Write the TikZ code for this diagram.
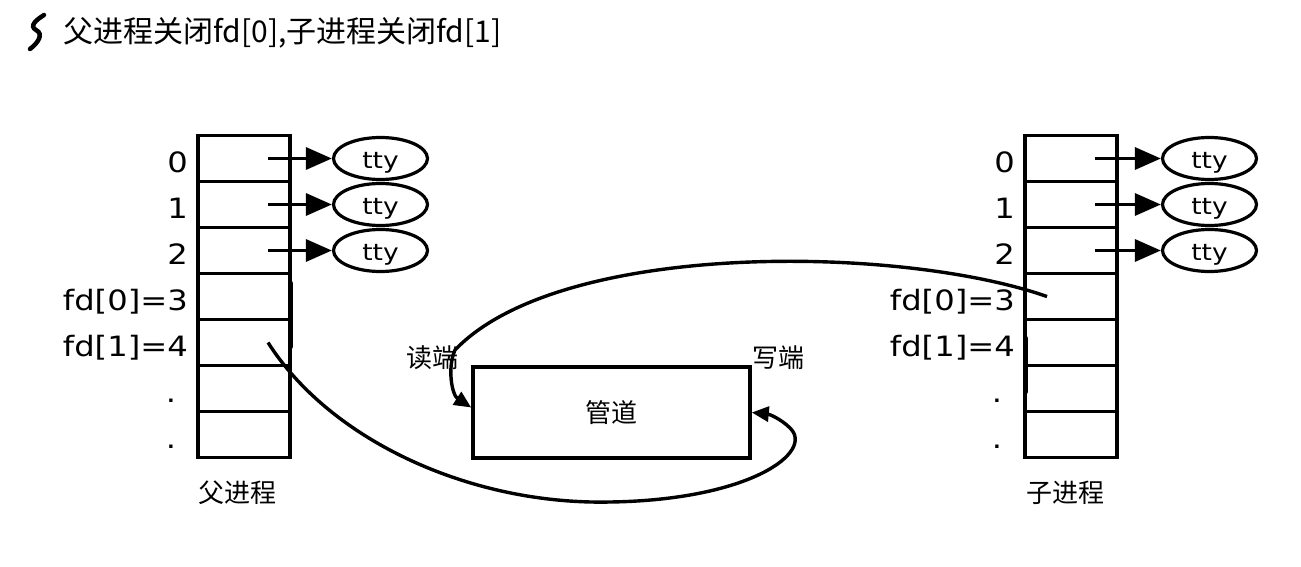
\documentclass[tikz,border=0pt]{standalone}
\usepackage{fontspec}
\setmainfont{DejaVu Sans}
\newfontfamily\cjk{Noto Sans CJK SC}
\newfontfamily\lab[FakeStretch=1.15]{DejaVu Sans}
\usetikzlibrary{arrows.meta,shapes.geometric,calc}
\begin{document}
\begin{tikzpicture}[x=1pt,y=-1pt,
  cell/.style={draw,line width=3.6pt,minimum width=92pt,minimum height=46pt,inner sep=0pt},
  ttybox/.style={draw,ellipse,line width=3.2pt,minimum width=94pt,minimum height=42pt,inner sep=0pt,text height=20pt,text depth=0pt,font=\lab\fontsize{23}{23}\selectfont},
  ptr/.style={line width=3.4pt,-{Triangle[length=26pt,width=22pt]}},
  num/.style={anchor=base east,inner sep=0pt,font=\lab\fontsize{28}{28}\selectfont},
  dotlab/.style={anchor=base,inner sep=0pt,font=\lab\fontsize{28}{28}\selectfont},
  cjklab/.style={inner sep=0pt,font=\cjk\fontsize{26}{26}\selectfont},
  curve/.style={line width=3.4pt,-{Triangle[length=17pt,width=15pt]}},
  closemark/.style={line width=5pt,line cap=round}
]
\useasboundingbox[fill=white] (0,0) rectangle (1301,567);

% title
\draw[line width=4.5pt,line cap=round] (44,15) .. controls (36,20) and (29,26) .. (36,30) .. controls (44,34) and (38,43) .. (30,49);
\node[anchor=west,inner sep=0pt,font=\cjk\fontsize{30}{30}\selectfont] (title) at (63,33) {父进程关闭fd[0],子进程关闭fd[1]};

% tables
\foreach \i in {0,...,6} {
  \node[cell] (L\i) at (244,158.5+46*\i) {};
  \node[cell] (R\i) at (1071,158.5+46*\i) {};
}
\foreach \i in {0,1,2} {
  \node[ttybox] (EL\i) at (380.5,158.5+46*\i) {tty};
  \node[ttybox] (ER\i) at (1209.5,158.5+46*\i) {tty};
  \draw[ptr] ([xshift=24pt]L\i.center) -- (EL\i.west);
  \draw[ptr] ([xshift=24pt]R\i.center) -- (ER\i.west);
}

% labels left
\node[num] (ln0) at (188,172.5) {0};
\node[num] (ln1) at (188,218.5) {1};
\node[num] (ln2) at (188,264.5) {2};
\node[num] (ln3) at (188,310.5) {fd[0]=3};
\node[num] (ln4) at (188,356.5) {fd[1]=4};
\node[dotlab] (ln5) at (171,402.5) {.};
\node[dotlab] (ln6) at (171,448.5) {.};
% labels right
\node[num] (rn0) at (1015,172.5) {0};
\node[num] (rn1) at (1015,218.5) {1};
\node[num] (rn2) at (1015,264.5) {2};
\node[num] (rn3) at (1015,310.5) {fd[0]=3};
\node[num] (rn4) at (1015,356.5) {fd[1]=4};
\node[dotlab] (rn5) at (997,402.5) {.};
\node[dotlab] (rn6) at (997,448.5) {.};

\node[cjklab] (parent) at (237,493) {父进程};
\node[cjklab] (child) at (1065,493) {子进程};

% pipe
\node[draw,line width=3.6pt,minimum width=277pt,minimum height=91pt,inner sep=0pt,font=\cjk\fontsize{26}{26}\selectfont] (pipe) at (611.5,412.5) {管道};
\node[cjklab] (rd) at (432,358) {读端};
\node[cjklab] (wr) at (778,358) {写端};

% closed marks
\draw[closemark] (290,283) -- (290,347);
\draw[closemark] (1025,338) -- (1025,392);

% curves
\draw[curve] ([xshift=-24pt]R3.center) .. controls (900,245) and (560,240) .. (455,350) .. controls (447,368) and (452,395) .. ([yshift=5pt]pipe.west);
\draw[curve] ([xshift=24pt]L4.center) .. controls (330,440) and (470,505) .. (610,502) .. controls (750,500) and (815,452) .. (790,428) .. controls (780,418) and (768,414) .. (pipe.east);
\end{tikzpicture}
\end{document}
